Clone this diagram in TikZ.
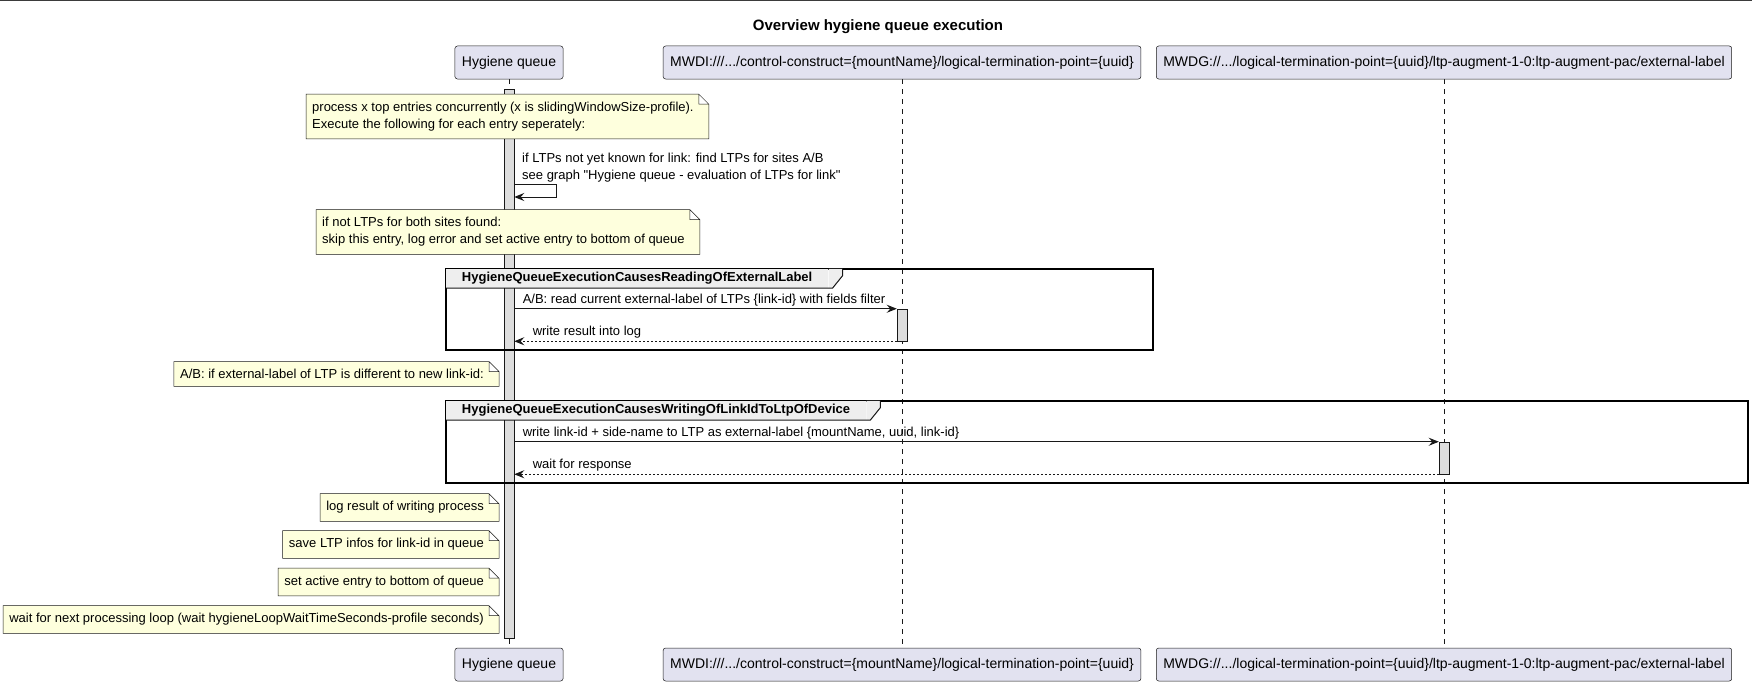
\documentclass[tikz,border=0pt]{standalone}
\usepackage{fontspec}
\setmainfont{Liberation Sans}
\usetikzlibrary{arrows.meta}
\pgfdeclarelayer{back}
\pgfsetlayers{back,main}
\definecolor{linec}{HTML}{181818}
\definecolor{partc}{HTML}{E2E2F0}
\definecolor{notec}{HTML}{FEFFDD}
\definecolor{barc}{HTML}{DDDDDD}
\definecolor{grpc}{HTML}{EEEEEE}
\newcommand{\fs}[1]{\fontsize{#1pt}{17pt}\selectfont}

\begin{document}
\begin{tikzpicture}[x=1pt, y=-1pt,
  part/.style={draw=linec, fill=partc, rounded corners=2.5pt, line width=0.5pt, minimum height=33pt, inner xsep=7pt, font=\fs{14}},
  life/.style={draw=linec, line width=0.5pt, dash pattern=on 5pt off 5pt},
  bar/.style={draw=linec, fill=barc, line width=0.5pt, minimum width=10pt, inner sep=0pt},
  memotext/.style={inner sep=0pt, align=left, font=\fs{13}},
  memo/.style={fill=notec, draw=linec, line width=0.5pt, insert path={
    ([shift={(-6pt,-7.5pt)}]#1.south west) -- ([shift={(-6pt,7.5pt)}]#1.north west) -- ([shift={(5pt,7.5pt)}]#1.north east)
    -- ([shift={(15pt,-2.5pt)}]#1.north east) -- ([shift={(15pt,-7.5pt)}]#1.south east) -- cycle
    ([shift={(5pt,7.5pt)}]#1.north east) |- ([shift={(15pt,-2.5pt)}]#1.north east)}},
  msg/.style={draw=linec, line width=1pt, -{Stealth[length=10pt,width=8pt,inset=3.5pt]}},
  reply/.style={msg, dash pattern=on 2pt off 2pt},
  lbl/.style={inner sep=0pt, font=\fs{13}, align=left},
  frame/.style={draw=black, line width=1.5pt, inner sep=0pt, anchor=north west},
  grphead/.style={fill=grpc, inner xsep=16pt, inner ysep=0pt, minimum height=19pt, font=\fs{13}\bfseries, anchor=north west}]
\useasboundingbox (0,0) rectangle (1752,685);
\draw[linec!85, line width=1pt] (0,0.5) -- (1752,0.5);
\node[font=\fs{15}\bfseries] (title) at (878,27) {Overview hygiene queue execution};

\node[part] (hqT) at (509,62.5) {Hygiene queue};
\node[part] (mwdiT) at (902,62.5) {MWDI:///.../control-construct=\{mountName\}/logical-termination-point=\{uuid\}};
\node[part] (mwdgT) at (1444,62.5) {MWDG://.../logical-termination-point=\{uuid\}/ltp-augment-1-0:ltp-augment-pac/external-label};
\node[part] (hqB) at (509,664.5) {Hygiene queue};
\node[part] (mwdiB) at (902,664.5) {MWDI:///.../control-construct=\{mountName\}/logical-termination-point=\{uuid\}};
\node[part] (mwdgB) at (1444,664.5) {MWDG://.../logical-termination-point=\{uuid\}/ltp-augment-1-0:ltp-augment-pac/external-label};

\node[memotext, anchor=west] (n1) at (312,116.5) {process x top entries concurrently (x is slidingWindowSize-profile).\\Execute the following for each entry seperately:};
\node[memotext, anchor=west] (n2) at (322,232) {if not LTPs for both sites found:\\skip this entry, log error and set active entry to bottom of queue};
\node[memotext, anchor=east] (n3) at (484,374) {A/B: if external-label of LTP is different to new link-id:};
\node[memotext, anchor=east] (n4) at (484,507.5) {log result of writing process};
\node[memotext, anchor=east] (n5) at (484,544.5) {save LTP infos for link-id in queue};
\node[memotext, anchor=east] (n6) at (484,582) {set active entry to bottom of queue};
\node[memotext, anchor=east] (n7) at (484,619.5) {wait for next processing loop (wait hygieneLoopWaitTimeSeconds-profile seconds)};

\begin{pgfonlayer}{back}
  \draw[life] (hqT) -- (hqB);
  \draw[life] (mwdiT) -- (mwdiB);
  \draw[life] (mwdgT) -- (mwdgB);
  \node[bar, minimum height=549pt] (hqbar) at (509,363.5) {};
  \node[bar, minimum height=32pt] (mwdibar) at (902,325) {};
  \node[bar, minimum height=32pt] (mwdgbar) at (1444,458) {};
  \foreach \i in {1,...,7} \path[memo=n\i];
\end{pgfonlayer}

\coordinate (s1) at (556,184);
\coordinate (s2) at (556,197);
\draw[msg] (hqbar.east |- s1) -- (s1) -- (s2) -- (hqbar.east |- s2);
\node[lbl, anchor=south west] (m0) at (522,182) {if LTPs not yet known for link: find LTPs for sites A/B\\see graph \textquotedbl Hygiene queue - evaluation of LTPs for link\textquotedbl};

\node[frame, minimum width=707pt, minimum height=81pt] (g1) at (445,268) {};
\node[grphead] (g1h) at ([shift={(0.75pt,-0.75pt)}]g1.north west) {HygieneQueueExecutionCausesReadingOfExternalLabel};
\node[frame, minimum width=1302pt, minimum height=82pt] (g2) at (445,400) {};
\node[grphead] (g2h) at ([shift={(0.75pt,-0.75pt)}]g2.north west) {HygieneQueueExecutionCausesWritingOfLinkIdToLtpOfDevice};
\foreach \g in {g1h,g2h} {
  \fill[grpc] (\g.north east) -- ([xshift=14pt]\g.north east) -- ([shift={(14pt,-7pt)}]\g.north east) -- ([xshift=4pt]\g.south east) -- (\g.south east) -- cycle;
  \draw[linec, line width=1pt] (\g.south west) -- ([xshift=4pt]\g.south east) -- ([shift={(14pt,-7pt)}]\g.north east) -- ([xshift=14pt]\g.north east);
}

\draw[msg] (hqbar.east |- mwdibar.north) -- (mwdibar.north west)
  node[lbl, pos=0, anchor=base west, xshift=8pt, yshift=5.5pt] (m1) {A/B: read current external-label of LTPs \{link-id\} with fields filter};
\draw[reply] (mwdibar.south west) -- (hqbar.east |- mwdibar.south)
  node[lbl, pos=1, anchor=base west, xshift=18pt, yshift=5.5pt] (r1) {write result into log};
\draw[msg] (hqbar.east |- mwdgbar.north) -- (mwdgbar.north west)
  node[lbl, pos=0, anchor=base west, xshift=8pt, yshift=5.5pt] (m2) {write link-id + side-name to LTP as external-label \{mountName, uuid, link-id\}};
\draw[reply] (mwdgbar.south west) -- (hqbar.east |- mwdgbar.south)
  node[lbl, pos=1, anchor=base west, xshift=18pt, yshift=5.5pt] (r2) {wait for response};
\end{tikzpicture}
\end{document}
